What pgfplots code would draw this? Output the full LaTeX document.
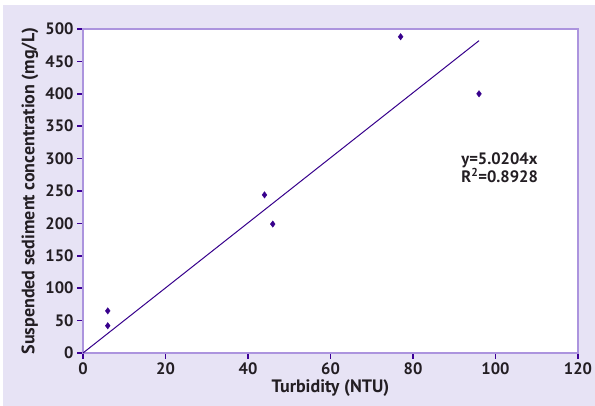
\documentclass[border=0pt]{standalone}
\usepackage{fontspec}
\setmainfont{PT Sans}
\usepackage{pgfplots}
\pgfplotsset{compat=1.18}
\definecolor{bgl}{RGB}{231,227,245}
\definecolor{framec}{RGB}{172,148,222}
\definecolor{tickc}{RGB}{60,0,150}
\definecolor{mk}{RGB}{55,0,140}
\definecolor{txt}{RGB}{35,30,35}
\begin{document}
\begin{tikzpicture}[x=1pt,y=1pt]
\useasboundingbox (0,0) rectangle (595,406);
\fill[white] (0,0) rectangle (595,406);
\fill[bgl] (3,0) rectangle (595,401);
\begin{axis}[at={(83pt,53pt)}, anchor=south west, scale only axis,
  width=495pt, height=324pt,
  xmin=0, xmax=120, ymin=0, ymax=500,
  xtick={0,20,...,120}, ytick={0,50,...,500},
  axis background/.style={fill=white},
  axis line style={framec, line width=1.2pt},
  tick style={tickc, line width=1.6pt},
  major tick length=6pt, tick align=outside,
  xtick pos=bottom, ytick pos=left,
  clip=false,
  /pgf/number format/assume math mode=true,
  tick label style={font=\fontsize{16.5}{19}\selectfont\bfseries, text=txt},
  label style={font=\fontsize{18}{21}\selectfont\bfseries, text=txt},
  xlabel={Turbidity (NTU)},
  ylabel={Suspended sediment concentration (mg/L)},
  xlabel style={at={(axis description cs:0.5,-0.108)}, anchor=center},
  ylabel style={at={(axis description cs:-0.107,0.5)}, anchor=center},
]
\addplot[mk, line width=1pt, no marks] coordinates {(0,0) (96,481.96)};
\addplot[only marks, mark=diamond*, mark size=3.2pt, mk] coordinates {
(6,65) (6,42) (44,244) (46,199) (77,488) (96,400)};
\node[font=\fontsize{16.5}{18}\selectfont\bfseries, text=txt, align=left, anchor=center]
  at (axis cs:101,286) {y=5.0204x\\R\textsuperscript{2}=0.8928};
\end{axis}
\end{tikzpicture}
\end{document}
